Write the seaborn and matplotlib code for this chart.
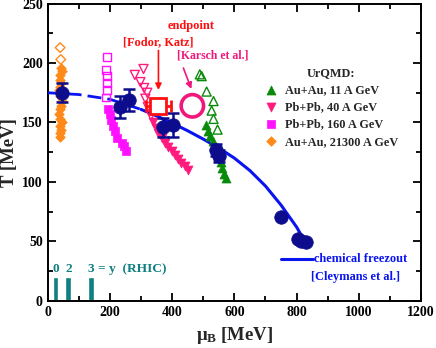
import matplotlib
matplotlib.use("Agg")
import matplotlib.pyplot as plt
import seaborn as sns
import numpy as np

# ---------------- data ----------------
# Au+Au 21300 A GeV (orange diamonds)
au21300_mu = [42, 45, 40, 38, 44, 41, 36, 39, 46, 43, 40, 37, 41, 45, 39, 42, 38, 40]
au21300_T = [196, 193, 190, 186, 183, 180, 177, 172, 168, 164, 161, 157, 153, 150, 147, 144, 141, 138]
au21300_open_mu = [40, 42]
au21300_open_T = [213, 203]

# Pb+Pb 160 A GeV (magenta squares)
pb160_mu = [195, 201, 204, 211, 217, 224, 240, 246, 253]
pb160_T = [161, 157, 152, 147, 142.5, 137, 133, 130, 125.6]
pb160_open_mu = [192, 188, 192, 192, 192, 188]
pb160_open_T = [205, 194, 189, 183, 177, 171]

# Pb+Pb 40 A GeV (pink down triangles)
pb40_mu = [340, 348, 356, 366, 376, 388, 398, 410, 420, 430, 442, 452]
pb40_T = [150, 145, 141, 137, 133, 129, 126, 123, 119, 116, 113, 110]
pb40_open_mu = [280, 308, 298, 310, 320, 314, 322, 332]
pb40_open_T = [190, 195, 184, 179, 175, 170, 163, 156]

# Au+Au 11 A GeV (green up triangles)
au11_mu = [508, 515, 522, 530, 540, 548, 556, 561, 567, 574]
au11_T = [148, 143, 139, 134, 128, 122, 117, 112, 107, 103]
au11_open_mu = [489, 495, 511, 533, 527, 533, 546]
au11_open_T = [190.5, 189, 176, 168, 160, 153, 144]

# chemical freeze-out points (navy circles)
fo_mu = [46, 232, 262, 370, 402, 540, 550, 750, 804, 814, 830]
fo_T = [175, 163, 169, 146, 148, 127, 122, 70.5, 52, 50, 49.5]
fo_err = [8, 9, 9, 8, 10, 5, 5, 0, 0, 0, 0]

# freeze-out curve [Cleymans et al.]
curve_dash_mu = [0, 100, 200, 300]
curve_dash_T = [175, 173.5, 169.5, 161]
curve_mu = [300, 350, 400, 450, 500, 550, 600, 650, 700, 750, 800, 835]
curve_T = [161, 155.5, 149.5, 143, 136, 128.5, 120, 109.5, 96.5, 80.5, 62, 46]

# endpoints
fodor_mu, fodor_T, fodor_xerr = 356, 164, 40
karsch_mu, karsch_T = 465, 164

# RHIC rapidity bars
rhic_mu = [25, 65, 140]
rhic_h = [20, 20, 20]

xticks = [0, 200, 400, 600, 800, 1000, 1200]
yticks = [0, 50, 100, 150, 200, 250]

# ---------------- style ----------------
sns.set_theme(style="ticks")
plt.rcParams["font.family"] = ["Liberation Serif", "DejaVu Serif"]
plt.rcParams["font.weight"] = "bold"
plt.rcParams["axes.labelweight"] = "bold"
plt.rcParams["mathtext.fontset"] = "custom"
plt.rcParams["mathtext.rm"] = "Liberation Serif:bold"
plt.rcParams["mathtext.it"] = "Liberation Serif:bold"
plt.rcParams["mathtext.bf"] = "Liberation Serif:bold"

fig = plt.figure(figsize=(4.36, 3.48), dpi=100)
ax = fig.add_axes([0.1094, 0.136, 0.8562, 0.8535])

NAVY = "#0c0c8c"
BLUE = "#0a14f0"
ORANGE = "#ff8a1a"
MAGENTA = "#ff10ff"
PINK = "#ff1a7e"
GREEN = "#0a8a0a"
RED = "#ff1010"
TEAL = "#0f7f7f"
KARSCH = "#f0187a"

# RHIC bars
ax.bar(rhic_mu, rhic_h, width=19, color=TEAL, zorder=2)
ax.text(rhic_mu[0], 22, "0", color=TEAL, fontsize=9.6, ha="center", va="bottom")
ax.text(rhic_mu[1] + 3, 22, "2", color=TEAL, fontsize=9.6, ha="center", va="bottom")
ax.text(129, 22, "3 = y  (RHIC)", color=TEAL, fontsize=9.6, ha="left", va="bottom")

# freeze-out curve
sns.lineplot(x=curve_dash_mu, y=curve_dash_T, ax=ax, color=BLUE, lw=2.0,
             linestyle=(0, (5, 2.2)), sort=False, estimator=None, zorder=3)
sns.lineplot(x=curve_mu, y=curve_T, ax=ax, color=BLUE, lw=2.2,
             sort=False, estimator=None, zorder=3)

# open markers
sns.scatterplot(x=au21300_open_mu, y=au21300_open_T, ax=ax, marker="D", s=24,
                facecolor="none", edgecolor=ORANGE, linewidth=1.0, zorder=4)
sns.scatterplot(x=pb160_open_mu, y=pb160_open_T, ax=ax, marker="s", s=32,
                facecolor="none", edgecolor=MAGENTA, linewidth=1.0, zorder=4)
sns.scatterplot(x=pb40_open_mu, y=pb40_open_T, ax=ax, marker="v", s=42,
                facecolor="none", edgecolor=PINK, linewidth=1.0, zorder=4)
sns.scatterplot(x=au11_open_mu, y=au11_open_T, ax=ax, marker="^", s=42,
                facecolor="none", edgecolor=GREEN, linewidth=1.0, zorder=4)

# filled markers
sns.scatterplot(x=au21300_mu, y=au21300_T, ax=ax, marker="D", s=24,
                color=ORANGE, edgecolor=ORANGE, linewidth=0.5, zorder=4,
                label="Au+Au, 21300 A GeV")
sns.scatterplot(x=pb160_mu, y=pb160_T, ax=ax, marker="s", s=32,
                color=MAGENTA, edgecolor=MAGENTA, linewidth=0.5, zorder=4,
                label="Pb+Pb, 160 A GeV")
sns.scatterplot(x=pb40_mu, y=pb40_T, ax=ax, marker="v", s=42,
                color=PINK, edgecolor=PINK, linewidth=0.5, zorder=4,
                label="Pb+Pb, 40 A GeV")
sns.scatterplot(x=au11_mu, y=au11_T, ax=ax, marker="^", s=42,
                color=GREEN, edgecolor=GREEN, linewidth=0.5, zorder=4,
                label="Au+Au, 11 A GeV")

# freeze-out circles with error bars
for m, t, e in zip(fo_mu, fo_T, fo_err):
    if e > 0:
        ax.errorbar(m, t, yerr=e, fmt="none", ecolor=NAVY, elinewidth=1.8,
                    capsize=4, capthick=1.8, zorder=5)
sns.scatterplot(x=fo_mu, y=fo_T, ax=ax, marker="o", s=95, color=NAVY,
                edgecolor=NAVY, linewidth=0.5, zorder=6)

# endpoints
ax.errorbar(fodor_mu, fodor_T, xerr=fodor_xerr, fmt="s", ms=12, mfc="white",
            mec=RED, mew=2.0, ecolor=RED, elinewidth=2.0, capsize=4,
            capthick=2.0, zorder=7)
sns.scatterplot(x=[karsch_mu], y=[karsch_T], ax=ax, marker="o", s=260,
                facecolor="none", edgecolor=KARSCH, linewidth=2.6, zorder=7)

ax.text(462, 231, "endpoint", color=RED, fontsize=9, ha="center", va="center")
ax.text(356, 217.5, "[Fodor, Katz]", color=RED, fontsize=8.8, ha="center", va="center")
ax.annotate("", xy=(356, 175), xytext=(356, 213),
            arrowprops=dict(arrowstyle="-|>", color=RED, lw=1.2, mutation_scale=9))
ax.text(530, 206, "[Karsch et al.]", color=KARSCH, fontsize=8.5, ha="center", va="center")
ax.annotate("", xy=(465, 176), xytext=(433, 198),
            arrowprops=dict(arrowstyle="-|>", color=KARSCH, lw=1.2, mutation_scale=9))

# chemical freezeout legend
ax.plot([749, 853], [35, 35], color=BLUE, lw=2.2)
ax.text(856, 35, "chemical freezout", color=BLUE, fontsize=8.9, ha="left", va="center")
ax.text(847, 20, "[Cleymans et al.]", color=BLUE, fontsize=8.9, ha="left", va="center")

# legend (UrQMD)
h, l = ax.get_legend_handles_labels()
order = [3, 2, 1, 0]
leg = ax.legend([h[i] for i in order], [l[i] for i in order],
                title="UrQMD:", loc="upper left", bbox_to_anchor=(0.555, 0.815),
                frameon=False, fontsize=8.8, title_fontsize=8.8,
                handletextpad=0.55, labelspacing=0.42, borderpad=0.2,
                handlelength=1.2, markerscale=1.0)
leg.get_title().set_fontweight("bold")

# axes
ax.set_xlim(0, 1200)
ax.set_ylim(0, 250)
ax.set_xticks(xticks)
ax.set_yticks(yticks)
ax.set_xticks(np.arange(100, 1200, 200), minor=True)
ax.set_yticks(np.arange(25, 250, 50), minor=True)
ax.tick_params(which="both", direction="in", top=True, right=True,
               labelsize=10, width=1.3, colors="black")
ax.tick_params(which="major", length=6)
ax.tick_params(which="minor", length=3.5)
for lab in ax.get_xticklabels() + ax.get_yticklabels():
    lab.set_fontweight("bold")
for sp in ax.spines.values():
    sp.set_linewidth(1.4)
    sp.set_color("black")
ax.set_xlabel(r"$\mathregular{\mu_B}$ [MeV]", fontsize=13.5, fontweight="bold", labelpad=5)
ax.set_ylabel("T [MeV]", fontsize=13.5, fontweight="bold", labelpad=3)

fig.savefig("out.png", dpi=100)
